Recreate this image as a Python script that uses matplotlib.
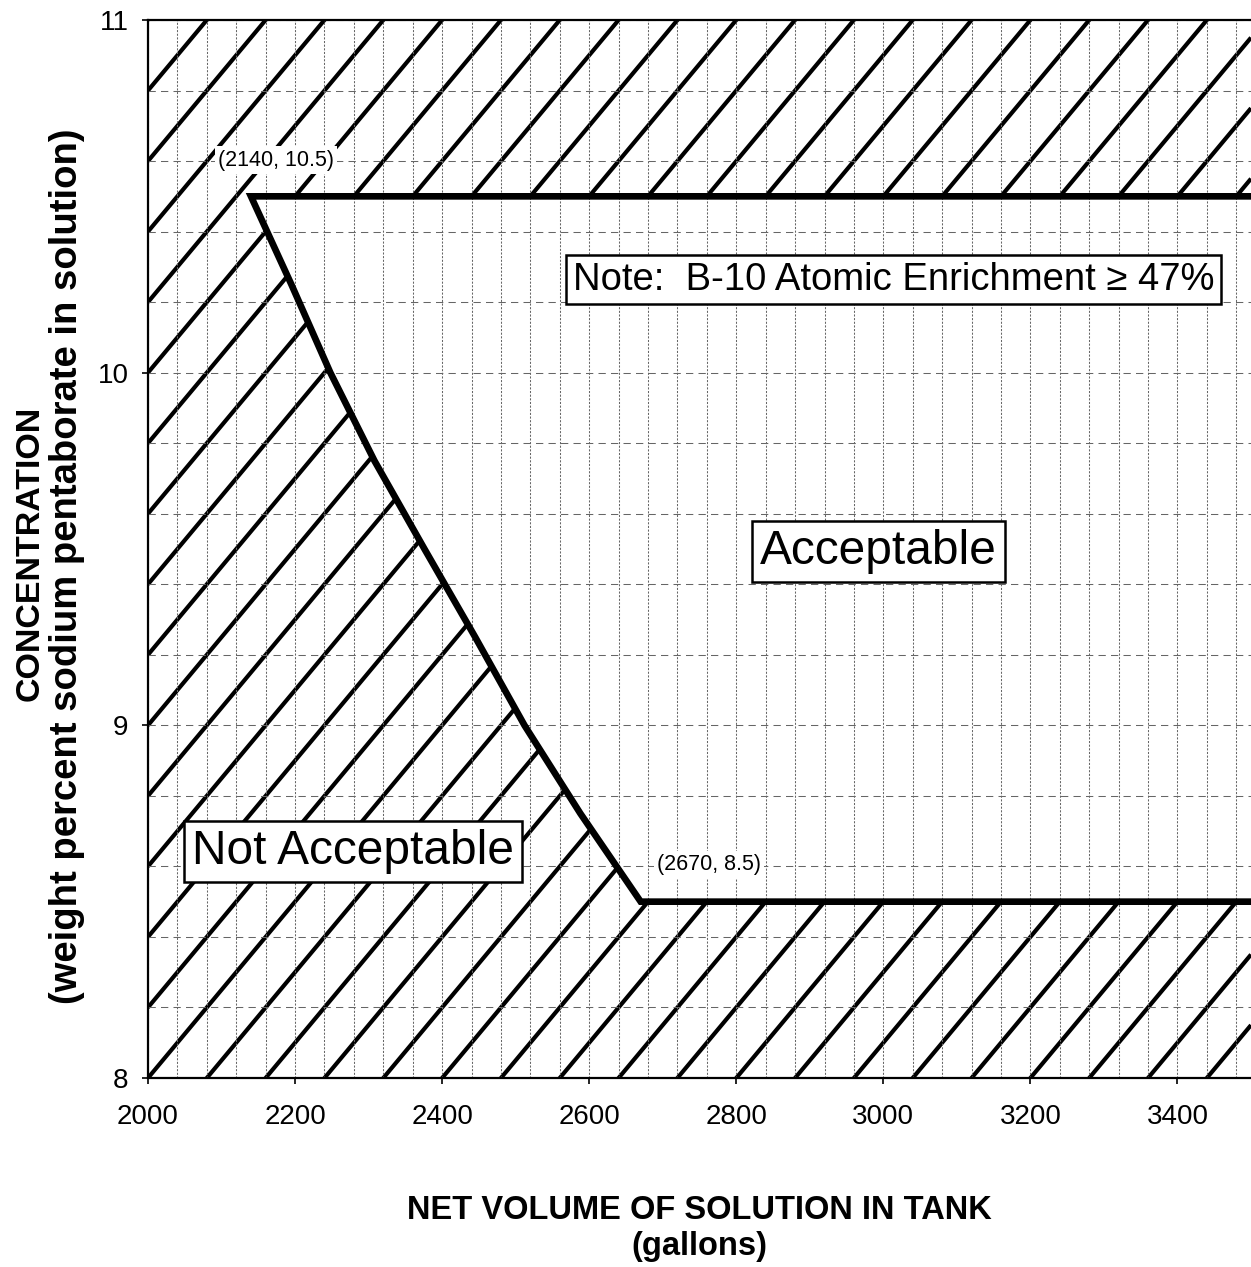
import numpy as np
import matplotlib
matplotlib.use("Agg")
import matplotlib.pyplot as plt
from matplotlib.ticker import MultipleLocator

plt.rcParams['font.family'] = ['Liberation Sans', 'DejaVu Sans']

# ---- data ----
conc_curve = [10.5, 10.25, 10.0, 9.75, 9.5, 9.25, 9.0, 8.75, 8.5]
vol_curve = [2140, 2195, 2248, 2308, 2376, 2445, 2512, 2588, 2670]
upper_limit = 10.5
lower_limit = 8.5
x_min, x_max = 2000, 3500
y_min, y_max = 8, 11
x_ticks = [2000, 2200, 2400, 2600, 2800, 3000, 3200, 3400]
y_ticks = [8, 9, 10, 11]
corner_labels = ["(2140, 10.5)", "(2670, 8.5)"]

fig = plt.figure(figsize=(12.51, 12.67), dpi=100)
ax = fig.add_axes([148 / 1251, 189 / 1267, 1103 / 1251, 1058 / 1267])
ax.set_xlim(x_min, x_max)
ax.set_ylim(y_min, y_max)

# diagonal hatching over the whole plot area (the acceptable region is blanked below)
hx = np.array([x_min, x_max], dtype=float)
for m in range(-20, 17):
    ax.plot(hx, y_min + 0.2 * m + 0.0025 * (hx - x_min), color='black', lw=3.0,
            solid_capstyle='butt', zorder=1)

# acceptable region blanked in white
poly_x = vol_curve + [x_max + 100, x_max + 100]
poly_y = conc_curve + [lower_limit, upper_limit]
ax.fill(poly_x, poly_y, color='white', lw=0, zorder=2)

# grid
ax.xaxis.set_major_locator(MultipleLocator(200))
ax.xaxis.set_minor_locator(MultipleLocator(40))
ax.yaxis.set_major_locator(MultipleLocator(1))
ax.yaxis.set_minor_locator(MultipleLocator(0.2))
ax.set_axisbelow(False)
ax.xaxis.grid(True, which='both', linestyle=(0, (2, 1.5)), color='0.4', lw=0.75)
ax.yaxis.grid(True, which='both', linestyle=(0, (7, 5)), color='0.4', lw=0.75)

# boundary line
bx = [x_max + 100] + vol_curve + [x_max + 100]
by = [upper_limit] + conc_curve + [lower_limit]
ax.plot(bx, by, color='black', lw=4.8, solid_joinstyle='miter', zorder=4)

# ticks and spines
ax.set_xticks(x_ticks)
ax.set_yticks(y_ticks)
ax.set_xticklabels([str(v) for v in x_ticks])
ax.set_yticklabels([str(v) for v in y_ticks])
ax.tick_params(axis='both', which='major', direction='out', length=4, width=1.2,
               labelsize=20, colors='black')
ax.tick_params(axis='x', which='major', pad=15)
ax.tick_params(axis='y', which='major', pad=10)
ax.tick_params(axis='both', which='minor', length=0)
ax.spines['right'].set_visible(False)
for s in ['top', 'left', 'bottom']:
    ax.spines[s].set_linewidth(1.6)
    ax.spines[s].set_zorder(6)

# annotations
ax.text(2095, 10.603, corner_labels[0], fontsize=15.5, ha='left', va='center', zorder=5,
        bbox=dict(boxstyle='square,pad=0.15', fc='white', ec='none'))
ax.text(2692, 8.604, corner_labels[1], fontsize=15.5, ha='left', va='center', zorder=5,
        bbox=dict(boxstyle='square,pad=0.15', fc='white', ec='none'))

box = dict(boxstyle='square,pad=0.17', fc='white', ec='black', lw=1.8)
ax.text(3014, 10.263, 'Note:  B-10 Atomic Enrichment \u2265 47%', fontsize=27.5,
        ha='center', va='center', zorder=5, bbox=box)
ax.text(2993, 9.493, 'Acceptable', fontsize=34.5, ha='center', va='center', zorder=5, bbox=box)
ax.text(2279, 8.6425, 'Not Acceptable', fontsize=34.5, ha='center', va='center', zorder=5, bbox=box)

# axis titles
fig.text(699.5 / 1251, 1 - 1228.5 / 1267, 'NET VOLUME OF SOLUTION IN TANK\n(gallons)',
         ha='center', va='center', fontsize=23.5, fontweight='bold', linespacing=1.18)
fig.text(30 / 1251, 1 - 553 / 1267, 'CONCENTRATION',
         ha='center', va='center', rotation=90, fontsize=24.5, fontweight='bold')
fig.text(67 / 1251, 1 - 566 / 1267, '(weight percent sodium pentaborate in solution)',
         ha='center', va='center', rotation=90, fontsize=27.5, fontweight='bold')

fig.savefig('out.png', dpi=100)
